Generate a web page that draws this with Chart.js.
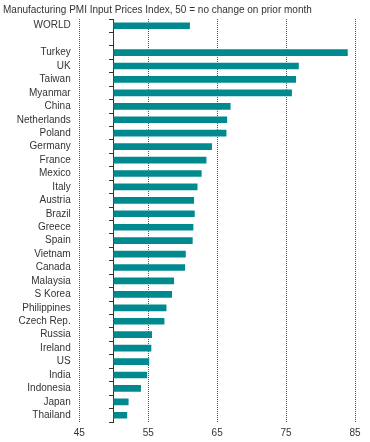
<!DOCTYPE html>
<html>
<head>
<meta charset="utf-8">
<script src="https://cdn.jsdelivr.net/npm/chart.js@4/dist/chart.umd.min.js"></script>
<style>
  html, body { margin: 0; padding: 0; background: #fff; }
  #wrap { width: 370px; height: 442px; }
</style>
</head>
<body>
<div id="wrap"><canvas id="pmi-chart" width="370" height="442"></canvas></div>
<script>
// Countries, top to bottom (blank row separates WORLD).
const categories = ['WORLD', '', 'Turkey', 'UK', 'Taiwan', 'Myanmar', 'China', 'Netherlands',
  'Poland', 'Germany', 'France', 'Mexico', 'Italy', 'Austria', 'Brazil', 'Greece', 'Spain',
  'Vietnam', 'Canada', 'Malaysia', 'S Korea', 'Philippines', 'Czech Rep.', 'Russia',
  'Ireland', 'US', 'India', 'Indonesia', 'Japan', 'Thailand'];
// Input prices index values.
const inputPrices = [61.0, null, 83.9, 76.8, 76.4, 75.8, 66.9, 66.4,
  66.3, 64.2, 63.4, 62.7, 62.1, 61.6, 61.7, 61.5, 61.4,
  60.4, 60.3, 58.7, 58.4, 57.6, 57.3, 55.5,
  55.4, 55.1, 54.8, 53.9, 52.1, 51.9];
const xTicks = [45, 55, 65, 75, 85];
const noChange = 50;

const textColor = '#333333';
const fontFamily = '"Liberation Sans", Arial, sans-serif';

const ctx = document.getElementById('pmi-chart').getContext('2d');
const pmiChart = new Chart(ctx, {
  type: 'bar',
  data: {
    labels: categories,
    datasets: [{
      data: inputPrices,
      base: noChange,
      backgroundColor: '#008a8f',
      barThickness: 6
    }]
  },
  options: {
    indexAxis: 'y',
    responsive: false,
    animation: false,
    devicePixelRatio: 1,
    layout: {
      padding: { left: 3, right: 15, top: 0, bottom: 0 }
    },
    plugins: {
      legend: { display: false },
      tooltip: { enabled: false },
      title: {
        display: true,
        text: 'Manufacturing PMI Input Prices Index, 50 = no change on prior month',
        align: 'start',
        color: textColor,
        font: { family: fontFamily, size: 10, weight: 'normal' },
        padding: { top: 4, bottom: 3 }
      }
    },
    scales: {
      x: {
        min: xTicks[0],
        max: xTicks[xTicks.length - 1],
        afterBuildTicks: function (scale) {
          scale.ticks = xTicks.map(v => ({ value: v }));
        },
        afterFit: function (scale) {
          scale.height = 20;
        },
        ticks: {
          color: textColor,
          font: { family: fontFamily, size: 10 },
          padding: 5,
          maxRotation: 0
        },
        grid: {
          color: '#555555',
          drawTicks: false
        },
        border: { display: false, dash: [1, 1] }
      },
      y: {
        position: 'left',
        afterFit: function (scale) {
          scale.width = 76.3;
        },
        ticks: {
          color: textColor,
          font: { family: fontFamily, size: 10 },
          padding: 8.6,
          autoSkip: false
        },
        grid: { display: false, drawTicks: false },
        border: { display: false }
      },
      // Axis line at 50 with small tick marks between rows.
      y2: {
        type: 'category',
        axis: 'y',
        position: { x: noChange },
        offset: true,
        ticks: { display: false },
        grid: {
          offset: true,
          drawOnChartArea: false,
          drawTicks: true,
          tickLength: 4,
          tickColor: textColor,
          color: textColor
        },
        border: { display: true, color: textColor, width: 1 }
      }
    }
  }
});
</script>
</body>
</html>
